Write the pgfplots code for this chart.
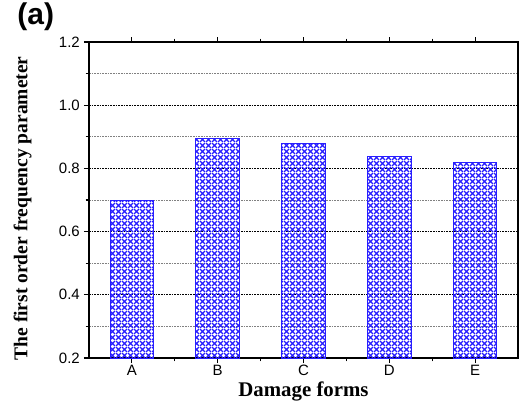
\documentclass[border=0pt]{standalone}
\usepackage{pgfplots}
\pgfplotsset{compat=1.18}
\usepackage{fontspec}
\setmainfont{Liberation Serif}
\setsansfont{Liberation Sans}
\usetikzlibrary{patterns.meta}
\definecolor{barblue}{RGB}{40,30,255}
\tikzdeclarepattern{
  name=mycross,
  type=uncolored,
  bounding box={(0,0) and (3.3pt,3.3pt)},
  tile size={(3.3pt,3.3pt)},
  code={
    \draw[line width=0.85pt] (0,0)--(3.3pt,3.3pt) (0,3.3pt)--(3.3pt,0);
  }
}
\begin{document}
\begin{tikzpicture}
\begin{axis}[
  scale only axis,
  width=257.4pt, height=189.6pt,
  xmin=-0.5, xmax=4.5,
  ymin=0.2, ymax=1.2,
  xtick={0,1,2,3,4},
  xticklabels={A,B,C,D,E},
  minor xtick={0.5,1.5,2.5,3.5},
  ytick={0.2,0.4,0.6,0.8,1.0,1.2},
  minor ytick={0.3,0.5,0.7,0.9,1.1},
  xtick pos=both, ytick pos=left,
  xtick align=inside, ytick align=outside,
  major tick length=3pt, minor tick length=2pt,
  axis line style={line width=0.9pt},
  every tick/.style={black, line width=0.7pt},
  ymajorgrids, yminorgrids,
  major grid style={dash pattern=on 1pt off 0.6pt, black, line width=0.5pt},
  minor grid style={dash pattern=on 1pt off 0.6pt, gray, line width=0.6pt},
  yticklabel style={xshift=1pt, /pgf/number format/.cd, fixed, fixed zerofill, precision=1},
  /pgf/number format/assume math mode=true,
  ticklabel style={font=\sffamily\fontsize{9}{10}\selectfont},
  xticklabel style={yshift=2.5pt},
  xlabel={\textbf{Damage forms}},
  ylabel={\textbf{The first order frequency parameter}},
  xlabel style={font=\fontsize{12.5}{14}\selectfont\bfseries, yshift=3pt},
  ylabel style={font=\fontsize{11.7}{13}\selectfont\bfseries, yshift=9.5pt, xshift=-5pt},
  ybar, bar width=0.51,
]
\addplot[draw=barblue, line width=0.6pt, fill=white, pattern={mycross}, pattern color=barblue]
  coordinates {(0,0.697) (1,0.895) (2,0.879) (3,0.839) (4,0.818)};
\end{axis}
\node[font=\sffamily\bfseries\fontsize{18}{20}\selectfont] at ([xshift=-32pt,yshift=15pt]current axis.north west) {(a)};
\pgfresetboundingbox
\path ([xshift=-53.4pt,yshift=-29.4pt]current axis.south west) ([xshift=4.2pt,yshift=25.2pt]current axis.north east);
\end{tikzpicture}
\end{document}
